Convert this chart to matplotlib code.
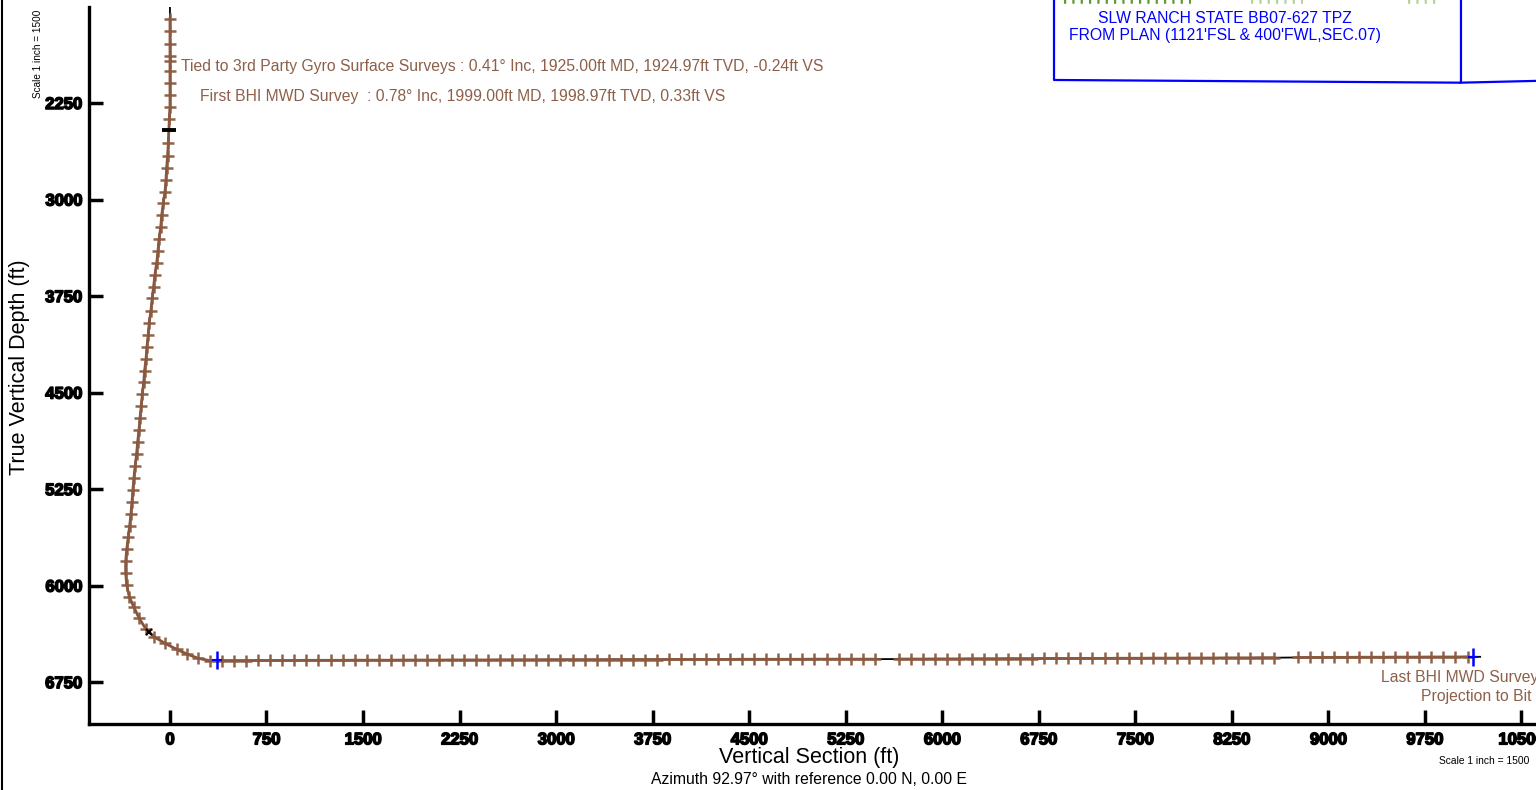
import numpy as np
import matplotlib
matplotlib.use('Agg')
import matplotlib.pyplot as plt
import matplotlib.patheffects as pe

# survey stations (VS ft, TVD ft)
build_vs = [0, 0, 0, 0, 0, 0, 0, 0, 0, -5, -13, -18, -26, -31, -39, -52, -64, -72, -85, -93,
            -103, -117, -127, -138, -148, -161, -169, -179, -186, -197, -204, -215, -223, -233,
            -241, -251, -259, -270, -280, -288, -295, -303, -313, -324, -336, -344, -344, -336,
            -316, -280, -239, -186, -124, -39, 52, 134, 220, 311]
build_tvd = [1597, 1693, 1789, 1885, 1925, 1999, 2095, 2190, 2283, 2377, 2563, 2659, 2753, 2848,
             2942, 3029, 3120, 3216, 3307, 3398, 3491, 3584, 3677, 3767, 3863, 3957, 4050, 4144,
             4237, 4330, 4420, 4513, 4604, 4698, 4791, 4884, 4975, 5068, 5161, 5255, 5348, 5441,
             5534, 5625, 5718, 5811, 5904, 5995, 6086, 6168, 6254, 6339, 6397, 6448, 6495, 6532,
             6565, 6583]

lat_a_vs = [402, 496, 590, 684, 778, 872, 966, 1060, 1154, 1248, 1342, 1436, 1530, 1624, 1718,
            1812, 1906, 2000, 2094, 2188, 2282, 2376, 2470, 2564, 2658, 2752, 2846, 2940, 3034,
            3128, 3222, 3316, 3410, 3504, 3598, 3692, 3786, 3880, 3974, 4068, 4162, 4256, 4350,
            4444, 4538, 4632, 4726, 4820, 4914, 5008, 5102, 5196, 5290, 5384, 5478]
lat_a_tvd = [6582, 6582, 6582, 6581, 6581, 6581, 6581, 6580, 6580, 6580, 6580, 6579, 6579, 6579,
             6579, 6578, 6578, 6578, 6578, 6577, 6577, 6577, 6577, 6576, 6576, 6576, 6576, 6575,
             6575, 6575, 6575, 6575, 6574, 6574, 6574, 6574, 6574, 6573, 6573, 6573, 6573, 6573,
             6573, 6572, 6572, 6572, 6572, 6572, 6572, 6571, 6571, 6571, 6571, 6571, 6571]
lat_b_vs = [5664, 5758, 5852, 5946, 6040, 6134, 6228, 6322, 6416, 6510, 6604, 6698, 6792, 6886,
            6980, 7074, 7168, 7262, 7356, 7450, 7544, 7638, 7732, 7826, 7920, 8014, 8108, 8202,
            8296, 8390, 8484, 8578]
lat_b_tvd = [6570, 6570, 6570, 6569, 6569, 6569, 6568, 6568, 6568, 6567, 6567, 6567, 6566, 6566,
             6566, 6565, 6565, 6565, 6564, 6564, 6564, 6563, 6563, 6563, 6562, 6562, 6562, 6561,
             6561, 6561, 6560, 6560]
lat_c_vs = [8766, 8860, 8954, 9048, 9142, 9236, 9330, 9424, 9518, 9612, 9706, 9800, 9894, 9988, 10082]
lat_c_tvd = [6558, 6558, 6557, 6557, 6557, 6556, 6556, 6556, 6555, 6555, 6555, 6554, 6554, 6554, 6553]

# well path ends (top of plot and bit)
path_start = (0, 1510)
path_end = (10180, 6553)

# special markers
blue_vs = [363, 10125]
blue_tvd = [6580, 6553]
black_tick = (-8, 2460)
black_cross = (-161, 6358)

# target box (from plan)
box_vs = [6869, 6869, 10031, 10031]
box_tvd = [1400, 2071, 2092, 1400]
box_tail_vs = [10031, 10700]
box_tail_tvd = [2092, 2076]

xticks = [0, 750, 1500, 2250, 3000, 3750, 4500, 5250, 6000, 6750, 7500, 8250, 9000, 9750, 10500]
yticks = [2250, 3000, 3750, 4500, 5250, 6000, 6750]

brown = '#8b5a40'
brown_txt = '#8c604a'
font = 'Liberation Sans'

fig = plt.figure(figsize=(15.36, 7.9), dpi=100)
ax = fig.add_axes([89 / 1536, 66 / 790, 1447 / 1536, 717 / 790])

# full black path underneath
all_vs = [path_start[0]] + build_vs + lat_a_vs + lat_b_vs + lat_c_vs + [path_end[0]]
all_tvd = [path_start[1]] + build_tvd + lat_a_tvd + lat_b_tvd + lat_c_tvd + [path_end[1]]
ax.plot(all_vs, all_tvd, color='black', lw=1.3, zorder=2)

# survey stations (brown crosses) in three runs
seg1_vs = build_vs + lat_a_vs
seg1_tvd = build_tvd + lat_a_tvd
for sv, st in [(seg1_vs, seg1_tvd), (lat_b_vs, lat_b_tvd), (lat_c_vs, lat_c_tvd)]:
    ax.plot(sv, st, color=brown, lw=2.0, marker='+', ms=9, mew=1.8, zorder=3, alpha=0.95)

ax.plot(*black_tick, marker='_', ms=10, mew=2.8, color='black', zorder=4)
ax.plot(*black_cross, marker='x', ms=5, mew=1.5, color='black', zorder=4)
ax.plot(blue_vs, blue_tvd, ls='none', marker='|', ms=13, mew=1.8, color='blue', zorder=5)
ax.plot(blue_vs, blue_tvd, ls='none', marker='_', ms=7, mew=1.5, color='blue', zorder=5)

# target box
ax.plot(box_vs, box_tvd, color='blue', lw=1.6, clip_on=False, zorder=5)
ax.plot(box_tail_vs, box_tail_tvd, color='blue', lw=1.6, clip_on=False, zorder=5)
ax.text(8197, 1590, 'SLW RANCH STATE BB07-627 TPZ', color='blue', fontsize=11.3,
        ha='center', va='center', family=font)
ax.text(6985, 1729, "FROM PLAN (1121'FSL & 400'FWL,SEC.07)", color='blue', fontsize=11.3,
        ha='left', va='center', family=font)

# green plan ticks peeking in at the top edge
for x0, x1, c in [(6950, 7930, '#5f9a35'), (8400, 8800, '#b5d29a'), (9620, 9870, '#b5d29a')]:
    ax.plot([x0, x1], [1455, 1455], color=c, lw=4, ls=(0, (0.4, 1.1)), clip_on=False, zorder=1)

# annotations
ax.text(85, 1970, 'Tied to 3rd Party Gyro Surface Surveys : 0.41\u00b0 Inc, 1925.00ft MD, 1924.97ft TVD, -0.24ft VS',
        color=brown_txt, fontsize=11.3, va='center', ha='left', family=font)
ax.text(235, 2196, 'First BHI MWD Survey  : 0.78\u00b0 Inc, 1999.00ft MD, 1998.97ft TVD, 0.33ft VS',
        color=brown_txt, fontsize=11.3, va='center', ha='left', family=font)
ax.text(9410, 6710, 'Last BHI MWD Survey', color=brown_txt, fontsize=11.3, va='center', ha='left',
        family=font, clip_on=False)
ax.text(10580, 6865, 'Projection to Bit', color=brown_txt, fontsize=11.3, va='center', ha='right',
        family=font, clip_on=False)

ax.set_xlim(-629, 10614)
ax.set_ylim(7075, 1504)
ax.set_xticks(xticks)
ax.set_yticks(yticks)
heavy = [pe.Stroke(linewidth=1.1, foreground='black'), pe.Normal()]
ax.set_xticklabels([str(t) for t in xticks], family=font, weight='bold', fontsize=12)
ax.set_yticklabels([str(t) for t in yticks], family=font, weight='bold', fontsize=12)
for lab in ax.get_xticklabels() + ax.get_yticklabels():
    lab.set_path_effects(heavy)
ax.tick_params(axis='both', direction='in', length=10, width=2.5)
ax.tick_params(axis='x', pad=6)
ax.tick_params(axis='y', pad=5)
for s in ['top', 'right']:
    ax.spines[s].set_visible(False)
for s in ['left', 'bottom']:
    ax.spines[s].set_linewidth(2.4)

fig.text(20 / 1536, 1 - 367 / 790, 'True Vertical Depth (ft)', rotation=90, fontsize=15.5,
         ha='center', va='center', family=font)
fig.text(809 / 1536, 1 - 758 / 790, 'Vertical Section (ft)', fontsize=15.5, ha='center', va='center',
         family=font)
fig.text(809 / 1536, 1 - 779 / 790, 'Azimuth 92.97\u00b0 with reference 0.00 N, 0.00 E', fontsize=11.3,
         ha='center', va='center', family=font)
fig.text(1484 / 1536, 1 - 761 / 790, 'Scale 1 inch = 1500', fontsize=7.4, ha='center', va='center',
         family=font)
fig.text(38 / 1536, 1 - 54 / 790, 'Scale 1 inch = 1500', fontsize=7.2, rotation=90, ha='center',
         va='center', family=font)

# page border at the left edge
fig.add_artist(plt.Line2D([1.5 / 1536, 1.5 / 1536], [0, 1], color='black', lw=1.5,
                          transform=fig.transFigure))

fig.savefig('out.png', dpi=100)
